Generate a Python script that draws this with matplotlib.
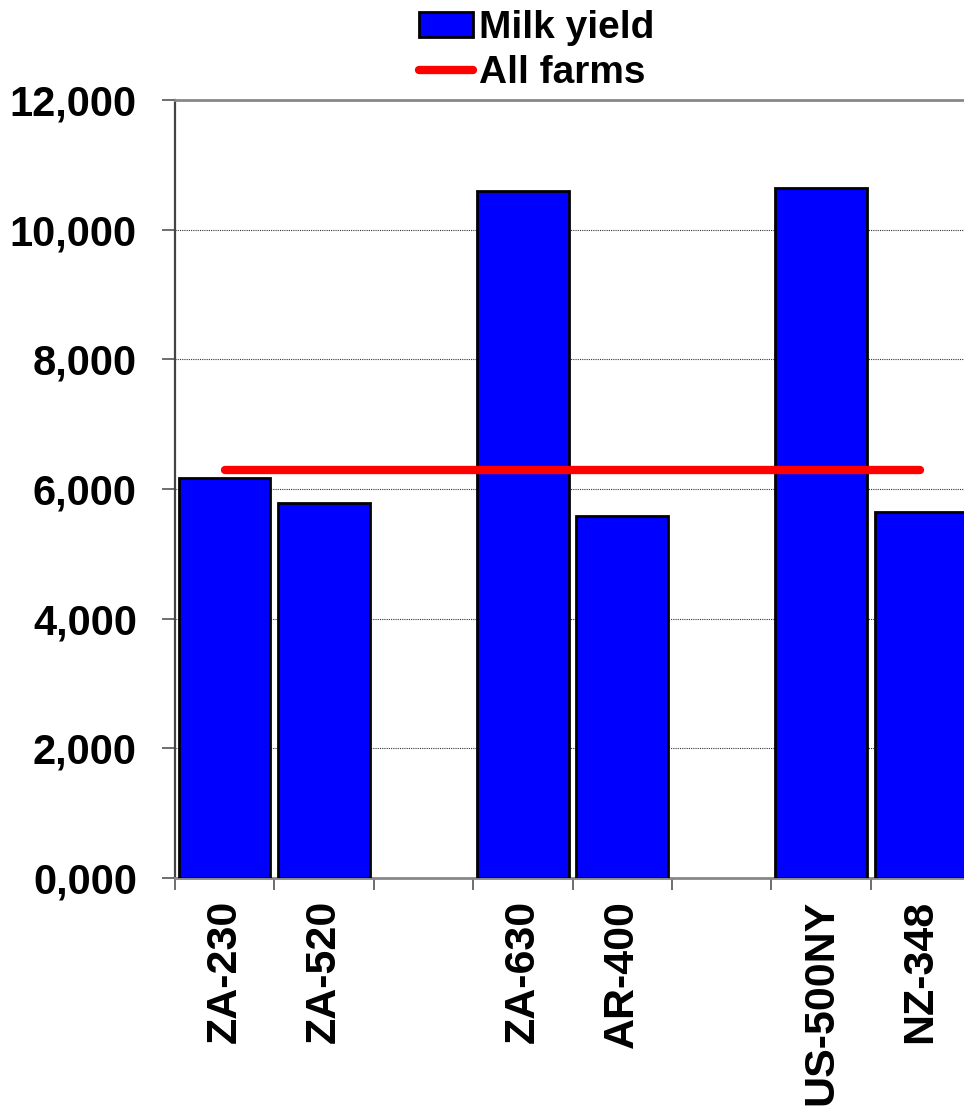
import numpy as np
import matplotlib
matplotlib.use("Agg")
import matplotlib.pyplot as plt

plt.rcParams["font.family"] = ["Liberation Sans", "DejaVu Sans"]
plt.rcParams["font.weight"] = "bold"

farms = ["ZA-230", "ZA-520", "", "ZA-630", "AR-400", "", "US-500NY", "NZ-348"]
milk_yield = [6170, 5790, np.nan, 10600, 5590, np.nan, 10650, 5650]
all_farms = 6300
y_ticks = [0, 2000, 4000, 6000, 8000, 10000, 12000]
y_labels = ["0,000", "2,000", "4,000", "6,000", "8,000", "10,000", "12,000"]

fig = plt.figure(figsize=(9.64, 11.08), dpi=100)
ax = fig.add_axes([175 / 964, 230 / 1108, 795 / 964, 778 / 1108])

x = np.arange(len(farms))
bars = ax.bar(x, milk_yield, width=0.92, color="#0000ff", edgecolor="black",
              linewidth=2, label="Milk yield", zorder=3)
line, = ax.plot(x, [all_farms] * len(x), color="#ff0000", linewidth=6,
                solid_capstyle="round", label="All farms", zorder=4)

ax.set_xlim(-0.5, len(farms) - 0.5)
ax.set_ylim(0, 12000)
ax.set_yticks(y_ticks)
ax.set_yticklabels(y_labels)
ax.yaxis.grid(True, linestyle=(0, (1, 1)), color="#333333", linewidth=0.8, zorder=0)

# category labels sit in the middle of each slot, ticks mark the slot edges
ax.set_xticks(x)
ax.set_xticklabels(farms, rotation=90, va="top")
ax.set_xticks(np.arange(-0.5, len(farms), 1), minor=True)
ax.tick_params(axis="x", which="major", length=0, pad=16, labelsize=31)
ax.tick_params(axis="x", which="minor", length=8.6, width=1.2, color="#555555", direction="out")
ax.tick_params(axis="y", length=9.4, width=1.2, color="#555555", pad=18, labelsize=30)

for side in ["top", "bottom", "right"]:
    ax.spines[side].set_color("#888888")
    ax.spines[side].set_linewidth(2)
ax.spines["left"].set_color("#444444")
ax.spines["left"].set_linewidth(1.6)

fig.legend([bars, line], ["Milk yield", "All farms"], loc="upper left",
           bbox_to_anchor=(419 / 964, 1 - 10 / 1108),
           frameon=False, fontsize=28, borderpad=0, borderaxespad=0,
           handlelength=1.4, handleheight=0.6, handletextpad=0.15,
           labelspacing=0.22)

fig.savefig("out.png", dpi=100)
